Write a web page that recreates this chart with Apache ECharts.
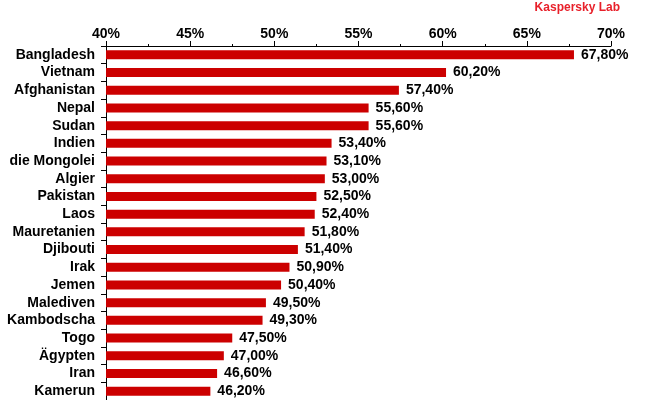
<!DOCTYPE html>
<html>
<head>
<meta charset="utf-8">
<script src="https://cdn.jsdelivr.net/npm/echarts@6/dist/echarts.min.js"></script>
<style>
html, body {margin: 0; padding: 0; background: #fff;}
#chart {width: 650px; height: 400px;}
</style>
</head>
<body>
<div id="chart"></div>
<script>
var countries = ['Bangladesh', 'Vietnam', 'Afghanistan', 'Nepal', 'Sudan', 'Indien', 'die Mongolei', 'Algier',
    'Pakistan', 'Laos', 'Mauretanien', 'Djibouti', 'Irak', 'Jemen', 'Malediven', 'Kambodscha', 'Togo',
    'Ägypten', 'Iran', 'Kamerun'];
var values = [67.8, 60.2, 57.4, 55.6, 55.6, 53.4, 53.1, 53.0, 52.5, 52.4, 51.8, 51.4, 50.9, 50.4, 49.5, 49.3,
    47.5, 47.0, 46.6, 46.2];
var axisMin = 40, axisMax = 70, axisStep = 5;

var myChart = echarts.init(document.getElementById('chart'));
var font = 'Liberation Sans, Arial, sans-serif';
var option = {
    animation: false,
    graphic: [{
        type: 'text', right: 30, top: 2,
        style: {text: 'Kaspersky Lab', fill: '#e8202a', font: 'bold 12px ' + font}
    }],
    grid: {left: 106, right: 39, top: 46, bottom: 0, containLabel: false},
    xAxis: {
        type: 'value', position: 'top', min: axisMin, max: axisMax, interval: axisStep,
        axisLine: {show: true, lineStyle: {color: '#000', width: 1}},
        axisTick: {show: true, inside: false, length: 5, lineStyle: {color: '#000'}},
        minorTick: {show: true, splitNumber: 2, length: 2, lineStyle: {color: '#000'}},
        splitLine: {show: false},
        axisLabel: {
            formatter: '{value}%', color: '#000', fontWeight: 'bold', fontSize: 14, fontFamily: font, margin: 5
        }
    },
    yAxis: {
        type: 'category', data: countries, inverse: true,
        axisLine: {show: true, lineStyle: {color: '#000', width: 1}},
        axisTick: {show: true, interval: 0, length: 5, lineStyle: {color: '#000'}},
        axisLabel: {interval: 0, color: '#000', fontWeight: 'bold', fontSize: 14, fontFamily: font, margin: 11}
    },
    series: [{
        type: 'bar', data: values, barWidth: 9,
        itemStyle: {color: '#cc0000'},
        label: {
            show: true, position: 'right', distance: 7, color: '#000', fontWeight: 'bold', fontSize: 14,
            fontFamily: font,
            formatter: function (p) { return p.value.toFixed(2).replace('.', ',') + '%'; }
        }
    }]
};
myChart.setOption(option, true);
</script>
</body>
</html>
